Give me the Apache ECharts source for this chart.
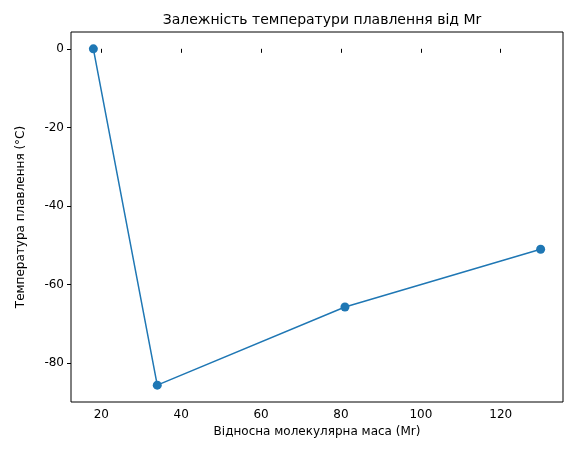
<!DOCTYPE html>
<html><head><meta charset="utf-8">
<script src="https://cdn.jsdelivr.net/npm/echarts@6/dist/echarts.min.js"></script>
<style>html,body{margin:0;padding:0;background:#fff}#c{width:574px;height:455px}</style>
</head><body><div id="c"></div>
<script>
var massValues = [18, 34, 81, 130];
var meltValues = [0, -85.6, -65.7, -51];
var xTicks = [20, 40, 60, 80, 100, 120];
var yTicks = [-80, -60, -40, -20, 0];

var chart = echarts.init(document.getElementById('c'));
var font = 'DejaVu Sans';
var axisCommon = {
  axisLine: { show: false },
  splitLine: { show: false },
  axisTick: { show: true, inside: false, length: 4, lineStyle: { color: '#000' } },
  axisLabel: { color: '#000', fontFamily: font, fontSize: 12 },
  nameLocation: 'middle',
  nameTextStyle: { color: '#000', fontFamily: font, fontSize: 12 }
};
chart.setOption({
  animation: false,
  title: { text: 'Залежність температури плавлення від Mr', left: 317, top: 8, textAlign: 'center',
    textStyle: { fontFamily: font, fontSize: 14, fontWeight: 'normal', color: '#000' } },
  grid: { left: 71, right: 11, top: 32, bottom: 53, show: true, borderColor: '#000', borderWidth: 1 },
  xAxis: Object.assign({}, axisCommon, {
    type: 'value', min: 12.4, max: 135.6, name: 'Відносна молекулярна маса (Mr)', nameGap: 24,
    axisTick: Object.assign({}, axisCommon.axisTick, { customValues: xTicks }),
    axisLabel: Object.assign({}, axisCommon.axisLabel, { customValues: xTicks, margin: 7 })
  }),
  yAxis: Object.assign({}, axisCommon, {
    type: 'value', min: -89.88, max: 4.28, name: 'Температура плавлення (°C)', nameGap: 44,
    axisTick: Object.assign({}, axisCommon.axisTick, { customValues: yTicks }),
    axisLabel: Object.assign({}, axisCommon.axisLabel, { customValues: yTicks, margin: 7 })
  }),
  series: [{
    type: 'line',
    data: massValues.map(function (m, i) { return [m, meltValues[i]]; }),
    symbol: 'circle', symbolSize: 9,
    itemStyle: { color: '#1f77b4' },
    lineStyle: { color: '#1f77b4', width: 1.5 }
  }]
});
</script></body></html>
